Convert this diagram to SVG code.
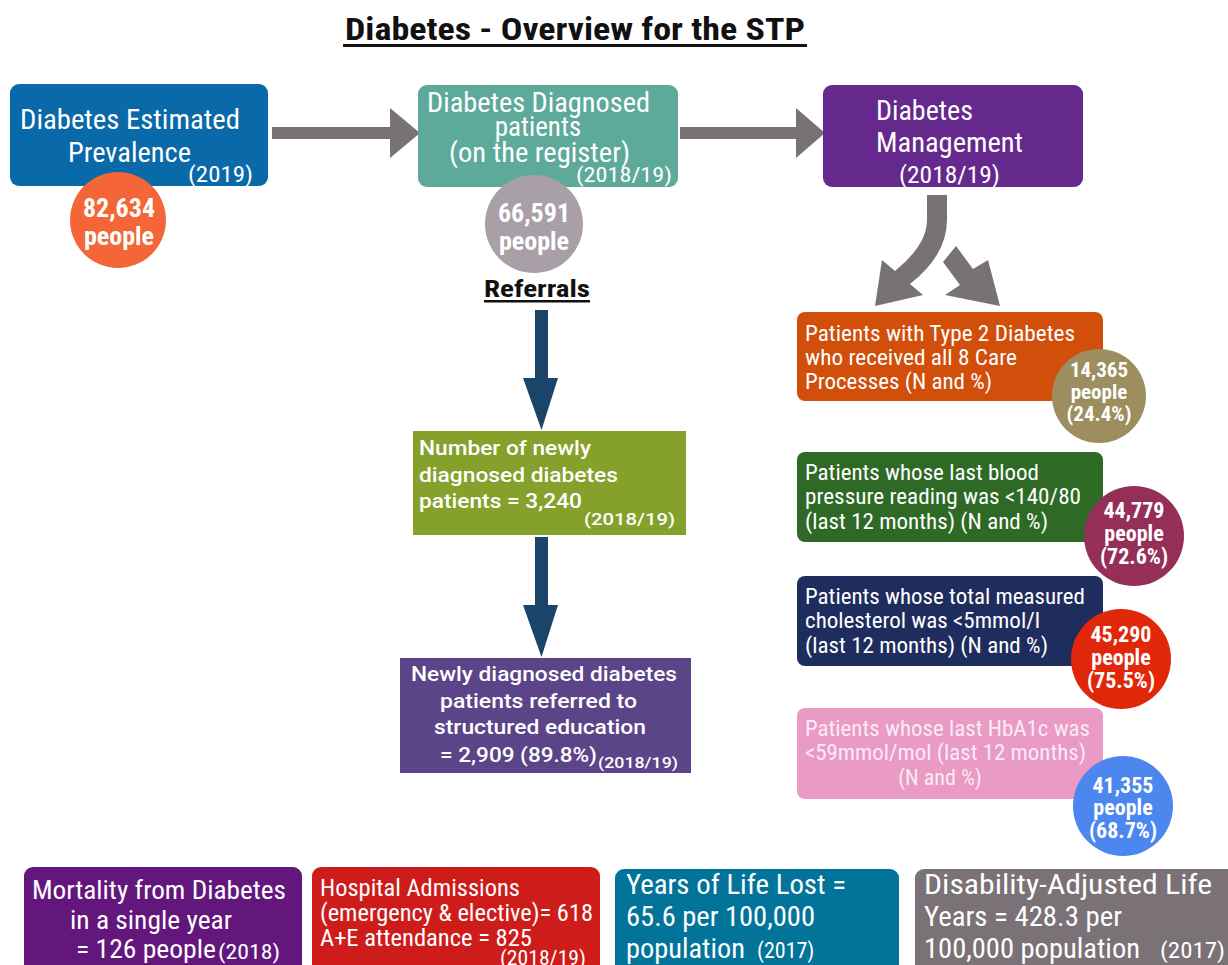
<svg xmlns="http://www.w3.org/2000/svg" width="1228" height="965" viewBox="0 0 1228 965">
  <style>
    text { fill: #ffffff; }
    .c { font-family: "Roboto Condensed", "Liberation Sans Narrow", "Arial Narrow", Roboto, sans-serif; }
    .r { font-family: Roboto, "Liberation Sans", sans-serif; font-weight: 500; }
    .b { font-weight: bold; }
    .h { fill: #111111; font-family: "Roboto Condensed", "Liberation Sans Narrow", Roboto, sans-serif; font-weight: bold; }
    .mid { text-anchor: middle; }
    .pk { fill: #FCEAF4; }
  </style>

  <!-- heading -->
  <g id="title">
    <text class="h" x="345" y="40" font-size="31" textLength="460" lengthAdjust="spacingAndGlyphs">Diabetes - Overview for the STP</text>
    <rect x="343" y="44" width="464" height="3" fill="#111111"/>
  </g>

  <!-- connectors -->
  <g id="connectors">
    <!-- grey flow arrows across the top -->
    <polygon points="272,127 390,127 390,108 420,133 390,158 390,139 272,139" fill="#787276"/>
    <polygon points="680,127 796,127 796,108 825,133 796,158 796,139 680,139" fill="#787276"/>
    <!-- split arrow under Diabetes Management -->
    <path d="M927,195 L947,195 L947,220 Q947,255 910,284 L923,295 L875,306 L882,260 L895,271 Q927,245 927,220 Z" fill="#787276"/>
    <path d="M943,262 L956,246 L973,269 L988,260 L1000,306 L945,295 L960,285 Z" fill="#787276"/>
    <!-- referral arrows -->
    <polygon points="535,310 548,310 548,378 558,378 541.5,430 523,378 535,378" fill="#1A4469"/>
    <polygon points="535,537 548,537 548,605 558,605 541.5,657 523,605 535,605" fill="#1A4469"/>
  </g>

  <!-- top row -->
  <g id="estimated-prevalence">
    <rect x="10" y="84" width="258" height="102" rx="9" fill="#0A69A8"/>
    <circle cx="118" cy="220" r="48" fill="#F46538"/>
    <text class="c" x="20" y="129" font-size="28" textLength="220" lengthAdjust="spacingAndGlyphs">Diabetes Estimated</text>
    <text class="c" x="68" y="162" font-size="28" textLength="123" lengthAdjust="spacingAndGlyphs">Prevalence</text>
    <text class="c" x="188" y="182" font-size="22" textLength="65" lengthAdjust="spacingAndGlyphs">(2019)</text>
    <text class="c b mid" x="119" y="217" font-size="26">82,634</text>
    <text class="c b mid" x="119" y="245" font-size="26">people</text>
  </g>

  <g id="diagnosed-patients">
    <rect x="418" y="85" width="260" height="102" rx="9" fill="#5DAA9B"/>
    <circle cx="534" cy="224" r="49" fill="#A89FA7"/>
    <text class="c" x="427" y="112" font-size="27" textLength="223" lengthAdjust="spacingAndGlyphs">Diabetes Diagnosed</text>
    <text class="c mid" x="538" y="136" font-size="27">patients</text>
    <text class="c" x="449" y="162" font-size="27" textLength="181" lengthAdjust="spacingAndGlyphs">(on the register)</text>
    <text class="c" x="576" y="182" font-size="20" textLength="96" lengthAdjust="spacingAndGlyphs">(2018/19)</text>
    <text class="c b mid" x="534" y="222" font-size="26">66,591</text>
    <text class="c b mid" x="534" y="250" font-size="26">people</text>
  </g>

  <g id="diabetes-management">
    <rect x="823" y="85" width="260" height="102" rx="9" fill="#65298D"/>
    <text class="c" x="876" y="120" font-size="28">Diabetes</text>
    <text class="c" x="876" y="152" font-size="28" textLength="147" lengthAdjust="spacingAndGlyphs">Management</text>
    <text class="c" x="899" y="183" font-size="24" textLength="101" lengthAdjust="spacingAndGlyphs">(2018/19)</text>
  </g>

  <!-- referrals column -->
  <g id="referrals-label">
    <text class="h" x="484" y="297" font-size="24" textLength="106" lengthAdjust="spacingAndGlyphs">Referrals</text>
    <rect x="484" y="300" width="106" height="2.5" fill="#111111"/>
  </g>

  <g id="newly-diagnosed">
    <rect x="413" y="431" width="273" height="104" fill="#85A12B"/>
    <text class="r" x="419" y="455" font-size="20" textLength="172" lengthAdjust="spacingAndGlyphs">Number of newly</text>
    <text class="r" x="419" y="482" font-size="20" textLength="199" lengthAdjust="spacingAndGlyphs">diagnosed diabetes</text>
    <text class="r" x="419" y="508" font-size="20" textLength="163" lengthAdjust="spacingAndGlyphs">patients = 3,240</text>
    <text class="r" x="584" y="525" font-size="17" textLength="91" lengthAdjust="spacingAndGlyphs">(2018/19)</text>
  </g>

  <g id="structured-education">
    <rect x="400" y="658" width="291" height="115" fill="#5C4489"/>
    <text class="r" x="411" y="681" font-size="20" textLength="266" lengthAdjust="spacingAndGlyphs">Newly diagnosed diabetes</text>
    <text class="r" x="440" y="708" font-size="20" textLength="197" lengthAdjust="spacingAndGlyphs">patients referred to</text>
    <text class="r" x="434" y="734" font-size="20" textLength="212" lengthAdjust="spacingAndGlyphs">structured education</text>
    <text class="r" x="440" y="762" font-size="20" textLength="157" lengthAdjust="spacingAndGlyphs">= 2,909 (89.8%)</text>
    <text class="r" x="598" y="768" font-size="15" textLength="80" lengthAdjust="spacingAndGlyphs">(2018/19)</text>
  </g>

  <!-- management indicators -->
  <g id="care-processes">
    <rect x="797" y="312" width="306" height="89" rx="8" fill="#D24E0B"/>
    <circle cx="1099" cy="396" r="47" fill="#9C8E5E"/>
    <text class="c" x="805" y="341" font-size="22" textLength="270" lengthAdjust="spacingAndGlyphs">Patients with Type 2 Diabetes</text>
    <text class="c" x="805" y="365" font-size="22" textLength="212" lengthAdjust="spacingAndGlyphs">who received all 8 Care</text>
    <text class="c" x="805" y="389" font-size="22" textLength="187" lengthAdjust="spacingAndGlyphs">Processes (N and %)</text>
    <text class="c b mid" x="1099" y="377" font-size="21">14,365</text>
    <text class="c b mid" x="1099" y="399" font-size="21">people</text>
    <text class="c b mid" x="1099" y="421" font-size="21">(24.4%)</text>
  </g>

  <g id="blood-pressure">
    <rect x="797" y="452" width="306" height="90" rx="8" fill="#2E6A26"/>
    <circle cx="1134" cy="536" r="50" fill="#962F57"/>
    <text class="c" x="805" y="480" font-size="22" textLength="234" lengthAdjust="spacingAndGlyphs">Patients whose last blood</text>
    <text class="c" x="805" y="504" font-size="22" textLength="276" lengthAdjust="spacingAndGlyphs">pressure reading was &lt;140/80</text>
    <text class="c" x="805" y="529" font-size="22" textLength="243" lengthAdjust="spacingAndGlyphs">(last 12 months) (N and %)</text>
    <text class="c b mid" x="1134" y="518" font-size="22">44,779</text>
    <text class="c b mid" x="1134" y="541" font-size="22">people</text>
    <text class="c b mid" x="1134" y="564" font-size="22">(72.6%)</text>
  </g>

  <g id="cholesterol">
    <rect x="797" y="576" width="306" height="90" rx="8" fill="#1F2C5E"/>
    <circle cx="1121" cy="659" r="50" fill="#E0270A"/>
    <text class="c" x="805" y="604" font-size="22" textLength="280" lengthAdjust="spacingAndGlyphs">Patients whose total measured</text>
    <text class="c" x="805" y="628" font-size="22" textLength="235" lengthAdjust="spacingAndGlyphs">cholesterol was &lt;5mmol/l</text>
    <text class="c" x="805" y="653" font-size="22" textLength="243" lengthAdjust="spacingAndGlyphs">(last 12 months) (N and %)</text>
    <text class="c b mid" x="1121" y="642" font-size="22">45,290</text>
    <text class="c b mid" x="1121" y="665" font-size="22">people</text>
    <text class="c b mid" x="1121" y="688" font-size="22">(75.5%)</text>
  </g>

  <g id="hba1c">
    <rect x="797" y="708" width="306" height="91" rx="8" fill="#E99AC5"/>
    <circle cx="1123" cy="806" r="50" fill="#4B87EE"/>
    <text class="c pk" x="805" y="736" font-size="22" textLength="285" lengthAdjust="spacingAndGlyphs">Patients whose last HbA1c was</text>
    <text class="c pk" x="805" y="760" font-size="22" textLength="281" lengthAdjust="spacingAndGlyphs">&lt;59mmol/mol (last 12 months)</text>
    <text class="c pk mid" x="940" y="785" font-size="22">(N and %)</text>
    <text class="c b mid" x="1123" y="793" font-size="22">41,355</text>
    <text class="c b mid" x="1123" y="815" font-size="22">people</text>
    <text class="c b mid" x="1123" y="838" font-size="22">(68.7%)</text>
  </g>

  <!-- outcome boxes along the bottom -->
  <g id="mortality">
    <rect x="24" y="867" width="278" height="120" rx="9" fill="#63177D"/>
    <text class="c" x="32" y="899" font-size="26" textLength="254" lengthAdjust="spacingAndGlyphs">Mortality from Diabetes</text>
    <text class="c" x="70" y="929" font-size="26" textLength="162" lengthAdjust="spacingAndGlyphs">in a single year</text>
    <text class="c" x="76" y="958" font-size="26" textLength="140" lengthAdjust="spacingAndGlyphs">= 126 people</text>
    <text class="c" x="218" y="959" font-size="21" textLength="62" lengthAdjust="spacingAndGlyphs">(2018)</text>
  </g>

  <g id="hospital-admissions">
    <rect x="312" y="867" width="288" height="120" rx="9" fill="#CE1C1B"/>
    <text class="c" x="320" y="896" font-size="23" textLength="200" lengthAdjust="spacingAndGlyphs">Hospital Admissions</text>
    <text class="c" x="320" y="921" font-size="23" textLength="273" lengthAdjust="spacingAndGlyphs">(emergency &amp; elective)= 618</text>
    <text class="c" x="320" y="946" font-size="23" textLength="212" lengthAdjust="spacingAndGlyphs">A+E attendance = 825</text>
    <text class="c" x="500" y="965" font-size="20" textLength="86" lengthAdjust="spacingAndGlyphs">(2018/19)</text>
  </g>

  <g id="years-of-life-lost">
    <rect x="615" y="869" width="284" height="120" rx="9" fill="#02749A"/>
    <text class="c" x="626" y="894" font-size="28" textLength="220" lengthAdjust="spacingAndGlyphs">Years of Life Lost =</text>
    <text class="c" x="626" y="926" font-size="28" textLength="189" lengthAdjust="spacingAndGlyphs">65.6 per 100,000</text>
    <text class="c" x="626" y="958" font-size="28" textLength="119" lengthAdjust="spacingAndGlyphs">population</text>
    <text class="c" x="757" y="958" font-size="22">(2017)</text>
  </g>

  <g id="disability-adjusted">
    <rect x="915" y="869" width="330" height="120" rx="9" fill="#7A7276"/>
    <text class="c" x="924" y="894" font-size="28" textLength="288" lengthAdjust="spacingAndGlyphs">Disability-Adjusted Life</text>
    <text class="c" x="924" y="926" font-size="28" textLength="198" lengthAdjust="spacingAndGlyphs">Years = 428.3 per</text>
    <text class="c" x="924" y="958" font-size="28" textLength="216" lengthAdjust="spacingAndGlyphs">100,000 population</text>
    <text class="c" x="1160" y="958" font-size="22" textLength="65" lengthAdjust="spacingAndGlyphs">(2017)</text>
  </g>
</svg>
